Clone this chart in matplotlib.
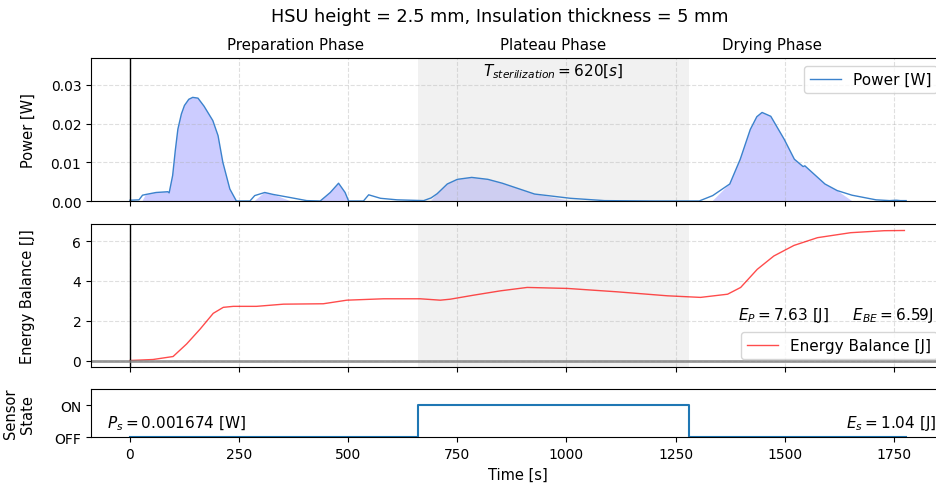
import matplotlib
matplotlib.use('Agg')
import matplotlib.pyplot as plt
import numpy as np

# power trace [s], [W]
power_t = [0, 21, 29, 37, 60, 87, 90, 98, 104, 110, 118, 125, 135, 144, 156, 170, 190, 202,
           213, 229, 244, 275, 286, 309, 328, 367, 405, 436, 459, 478, 493, 501, 535, 547,
           574, 612, 673, 690, 704, 727, 750, 783, 820, 853, 927, 1009, 1087, 1200, 1304,
           1335, 1374, 1398, 1421, 1436, 1448, 1468, 1499, 1522, 1542, 1546, 1592, 1620,
           1654, 1709, 1740, 1755, 1765, 1778]
power_w = [0.0002, 0.0003, 0.0015, 0.0017, 0.0022, 0.0024, 0.0021, 0.0066, 0.0130, 0.0186,
           0.0225, 0.0247, 0.0263, 0.0268, 0.0266, 0.0245, 0.0208, 0.0169,
           0.0100, 0.0031, 0.0, 0.0, 0.0014, 0.0022, 0.0017, 0.0009, 0.0001, 0.0, 0.0022,
           0.0046, 0.0022, 0.0, 0.0, 0.0016,
           0.0007, 0.0003, 0.0001, 0.0008, 0.0019, 0.0044, 0.0056, 0.0061, 0.0056, 0.0046,
           0.0018, 0.0007, 0.0001, 0.0, 0.0,
           0.0014, 0.0044, 0.0108, 0.0185, 0.0218, 0.0229, 0.0219, 0.0159, 0.0108, 0.0089,
           0.0091, 0.0044, 0.0027,
           0.0015, 0.0003, 0.0001, 0.0002, 0.0001, 0.0001]

# energy balance [s], [J]
energy_t = [0, 53, 99, 130, 161, 191, 214, 237, 290, 352, 443, 497, 581, 665, 711, 734,
            787, 849, 910, 1002, 1116, 1231, 1307, 1369, 1399, 1437, 1475, 1521, 1575,
            1651, 1728, 1774]
energy_j = [0.0, 0.05, 0.2, 0.83, 1.58, 2.37, 2.67, 2.72, 2.72, 2.83, 2.85, 3.03, 3.1,
            3.1, 3.03, 3.08, 3.28, 3.5, 3.67, 3.62, 3.45, 3.25, 3.17, 3.33, 3.67, 4.58,
            5.25, 5.78, 6.17, 6.42, 6.52, 6.53]

# sensor state
sensor_t = [0, 660, 1280, 1778]
sensor_state = [0, 1, 0, 0]

plateau = (660, 1280)
P_s = 0.001674
phases = ['Preparation Phase', 'Plateau Phase', 'Drying Phase']
phase_x = [380, 970, 1470]

power_t = np.array(power_t)
power_w = np.array(power_w)

fig = plt.figure(figsize=(9.36, 4.85), dpi=100)
L, W = 91 / 936, 854 / 936
ax1 = fig.add_axes([L, 1 - 202 / 485, W, 142.7 / 485])
ax2 = fig.add_axes([L, 1 - 368 / 485, W, 143 / 485], sharex=ax1)
ax3 = fig.add_axes([L, 1 - 438.3 / 485, W, 48.3 / 485], sharex=ax1)

# power
ax1.plot(power_t, power_w, color='#3b82cc', lw=1, label='Power [W]')
ax1.fill_between(power_t, 0, power_w, where=power_w > P_s, interpolate=True,
                 color='blue', alpha=0.2, lw=0)
ax1.axvspan(*plateau, color='lightgray', alpha=0.3, lw=0)
ax1.axvline(0, color='black', lw=1)
ax1.set_ylim(0, 0.0369)
ax1.set_ylabel('Power [W]', fontsize=10.5)
ax1.grid(True, ls='--', alpha=0.4)
ax1.legend(loc='upper right', fontsize=11)
ax1.text(970, 0.0336, r'$T_{sterilization} = 620[s]$', ha='center', va='center', fontsize=11)
for name, px in zip(phases, phase_x):
    ax1.text(px, 1.1, name, ha='center', va='center', fontsize=10.8,
             transform=ax1.get_xaxis_transform())
fig.text(500 / 936, 1 - 17 / 485, 'HSU height = 2.5 mm, Insulation thickness = 5 mm',
         ha='center', va='center', fontsize=12.7)
plt.setp(ax1.get_xticklabels(), visible=False)

# energy balance
ax2.plot(energy_t, energy_j, color='red', alpha=0.7, lw=1, label='Energy Balance [J]')
ax2.axvspan(*plateau, color='lightgray', alpha=0.3, lw=0)
ax2.axvline(0, color='black', lw=1)
ax2.axhline(0, color='gray', lw=2, alpha=0.8)
ax2.set_ylabel('Energy Balance [J]', fontsize=10.5)
ax2.grid(True, ls='--', alpha=0.4)
ax2.legend(loc='lower right', fontsize=11)
ax2.text(1393, 2.3, r'$E_P = 7.63$ [J]     $E_{BE} = 6.59$J', ha='left', va='center', fontsize=11)
plt.setp(ax2.get_xticklabels(), visible=False)

# sensor
ax3.plot(sensor_t, sensor_state, color='#1f77b4', lw=1.5, drawstyle='steps-post')
ax3.set_ylim(0, 1.5)
ax3.set_yticks([0, 1])
ax3.set_yticklabels(['OFF', 'ON'])
ax3.set_ylabel('Sensor\nState', fontsize=10.5)
ax3.set_xlabel('Time [s]', fontsize=10.5)
ax3.text(-53, 0.45, r'$P_s = 0.001674$ [W]', ha='left', va='center', fontsize=11)
ax3.text(1848, 0.45, r'$E_s = 1.04$ [J]', ha='right', va='center', fontsize=11)

ax1.set_xlim(-89, 1867)
for ax in (ax1, ax2, ax3):
    ax.yaxis.set_label_coords(-0.065, 0.5)
    ax.tick_params(labelsize=10)

fig.savefig('out.png', dpi=100)
